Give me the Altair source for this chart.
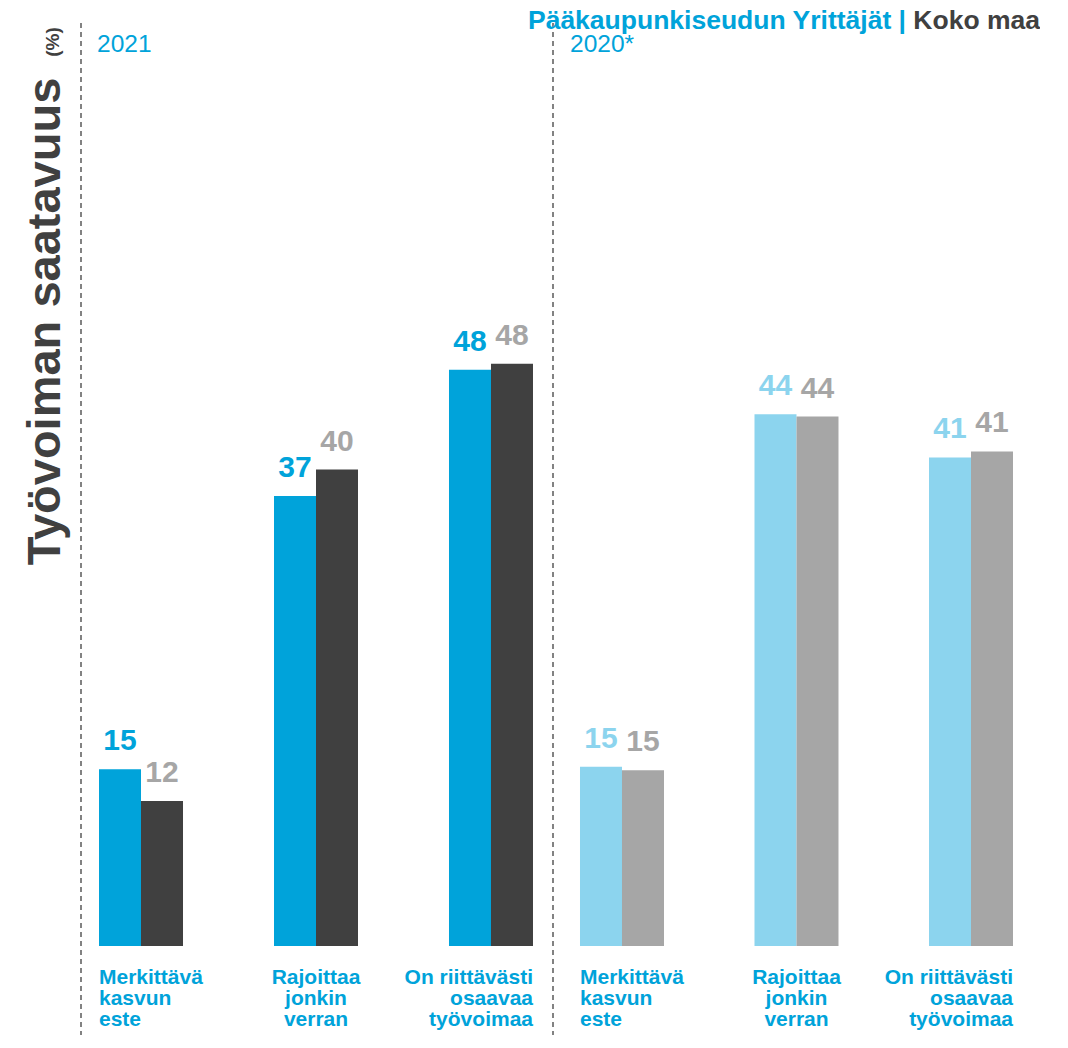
import altair as alt
import pandas as pd

# ---- data ----
category_keys = ["este", "rajoittaa", "riittava"]
category_labels = ["Merkittävä\nkasvun\neste", "Rajoittaa\njonkin\nverran", "On riittävästi\nosaavaa\ntyövoimaa"]
series = ["Pääkaupunkiseudun Yrittäjät", "Koko maa"]

pk_2021 = [14.7, 37.4, 47.9]
km_2021 = [12.05, 39.6, 48.4]
pk_2020 = [14.9, 44.2, 40.6]
km_2020 = [14.6, 44.0, 41.1]

lab_pk_2021 = ["15", "37", "48"]
lab_km_2021 = ["12", "40", "48"]
lab_pk_2020 = ["15", "44", "41"]
lab_km_2020 = ["15", "44", "41"]

FONT = "Liberation Sans"
BLUE = "#00A3DA"
DARK = "#404040"
LIGHTBLUE = "#8CD4EE"
GRAY = "#A6A6A6"

H = 900
YDOM = [0, 74.8]


def make_df(pk, km, lpk, lkm, bar_cols, lab_cols):
    rows = []
    for i, k in enumerate(category_keys):
        for si, (vals, labs) in enumerate([(pk, lpk), (km, lkm)]):
            rows.append({
                "ci": i, "cat": k, "catlabel": category_labels[i], "series": series[si],
                "value": vals[i], "label": labs[i],
                "barcolor": bar_cols[si], "labcolor": lab_cols[si],
            })
    return pd.DataFrame(rows)


df21 = make_df(pk_2021, km_2021, lab_pk_2021, lab_km_2021, [BLUE, DARK], [BLUE, GRAY])
df20 = make_df(pk_2020, km_2020, lab_pk_2020, lab_km_2020, [LIGHTBLUE, GRAY], [LIGHTBLUE, GRAY])
one = pd.DataFrame({"a": [0]})


def panel(df, width, po, pi, year_text, year_x, extra):
    base = alt.Chart(df)
    xenc = alt.X("cat:N", sort=category_keys,
                 scale=alt.Scale(domain=category_keys, paddingInner=pi, paddingOuter=po), axis=None)
    xoff = alt.XOffset("series:N", sort=series,
                       scale=alt.Scale(domain=series, paddingInner=0, paddingOuter=0))
    yenc = alt.Y("value:Q", scale=alt.Scale(domain=YDOM, nice=False, zero=True), axis=None)

    bars = base.mark_bar().encode(
        x=xenc, xOffset=xoff, y=yenc, color=alt.Color("barcolor:N", scale=None)
    )
    labels = base.mark_text(
        font=FONT, fontSize=30, fontWeight="bold", baseline="alphabetic", dy=-19
    ).encode(x=xenc, xOffset=xoff, y=yenc, text="label:N", color=alt.Color("labcolor:N", scale=None))

    layers = [bars, labels]
    for i, al, dx in [(0, "left", -42), (1, "center", 0), (2, "right", 42)]:
        layers.append(
            base.transform_filter(alt.datum.ci == i)
            .transform_filter(alt.datum.series == series[0])
            .mark_text(font=FONT, fontSize=21, fontWeight="bold", color=BLUE, align=al, dx=dx,
                       baseline="top", lineBreak="\n", lineHeight=21)
            .encode(x=xenc, y=alt.value(H + 21), text="catlabel:N")
        )
    rule = alt.Chart(one).mark_rule(strokeDash=[5, 4], color="#5A5A5A", strokeWidth=1.5).encode(
        x=alt.value(0), y=alt.value(-23), y2=alt.value(989)
    )
    year = alt.Chart(one).mark_text(font=FONT, fontSize=24.5, color=BLUE, align="left",
                                    baseline="alphabetic").encode(
        x=alt.value(year_x), y=alt.value(6), text=alt.value(year_text)
    )
    layers += [rule, year] + extra
    return alt.layer(*layers).properties(width=width, height=H)


ytitle = alt.Chart(one).mark_text(font=FONT, fontSize=47, fontWeight="bold", color=DARK, angle=270,
                                  align="center", baseline="alphabetic").encode(
    x=alt.value(-21), y=alt.value(275.5), text=alt.value("Työvoiman saatavuus")
)
ypct = alt.Chart(one).mark_text(font=FONT, fontSize=19, fontWeight="bold", color=DARK, angle=270,
                                align="center", baseline="alphabetic").encode(
    x=alt.value(-22), y=alt.value(-4), text=alt.value("(%)")
)
title_blue = alt.Chart(one).mark_text(font=FONT, fontSize=26.5, fontWeight="bold", color=BLUE,
                                      align="right", baseline="alphabetic").encode(
    x=alt.value(353), y=alt.value(-17), text=alt.value("Pääkaupunkiseudun Yrittäjät |")
)
title_dark = alt.Chart(one).mark_text(font=FONT, fontSize=26.5, fontWeight="bold", color=DARK,
                                      align="right", baseline="alphabetic").encode(
    x=alt.value(487), y=alt.value(-17), text=alt.value("Koko maa")
)

p1 = panel(df21, 470, 0.1029, 0.52, "2021", 16, [ytitle, ypct])
p2 = panel(df20, 487, 0.1547, 1 - 84 / 174.5, "2020*", 17, [title_blue, title_dark])

chart = alt.hconcat(p1, p2, spacing=2, bounds="flush").resolve_scale(
    x="independent", y="independent"
).configure_view(stroke=None).properties(padding={"left": 13, "top": 0, "right": 0, "bottom": 0})

chart.save("out.html", embed_options={"renderer": "svg", "actions": False})
